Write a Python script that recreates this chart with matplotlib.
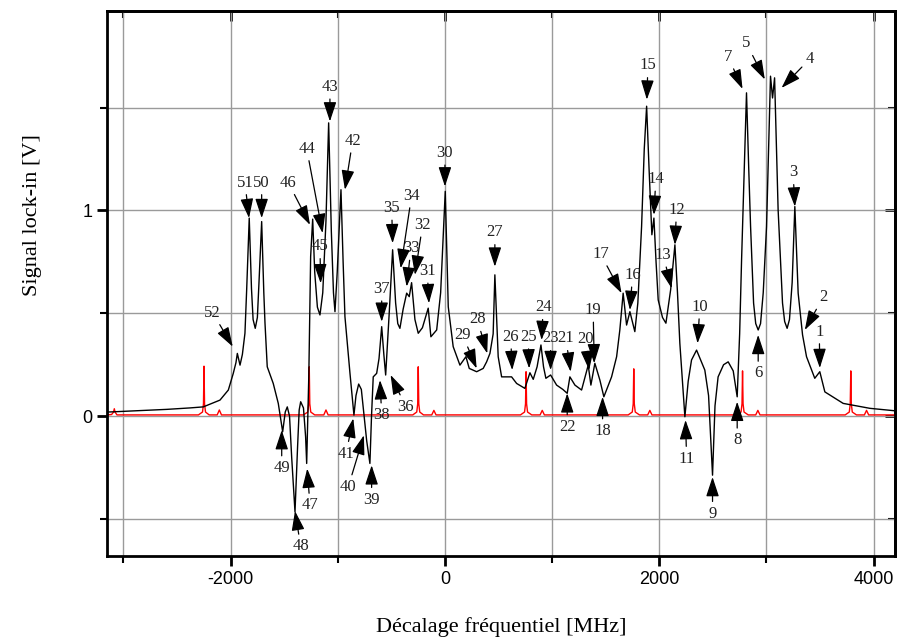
import matplotlib
matplotlib.use('Agg')
from matplotlib import pyplot as plt
from matplotlib.ticker import MultipleLocator

plt.rcParams['axes.unicode_minus'] = False

# black spectrum (lock-in signal), MHz / V
bx = [-3150, -3097, -2800, -2593, -2379, -2255, -2099, -2021, -1975, -1950, -1937,
      -1912, -1890, -1866, -1850, -1826, -1805, -1790, -1770, -1750, -1735, -1710,
      -1690, -1679, -1658, -1602, -1555, -1514, -1490, -1471, -1450, -1430, -1399,
      -1375, -1360, -1346, -1320, -1300, -1290, -1270, -1253, -1234, -1215, -1190,
      -1166, -1140, -1110, -1085, -1060, -1040, -1026, -1005, -970, -950, -933,
      -886, -849, -830, -805, -780, -760, -730, -700, -685, -669, -637, -615, -590,
      -570, -553, -520, -488, -460, -440, -420, -390, -357, -333, -311, -280, -249,
      -210, -156, -131, -77, -40, 3, 31, 77, 140, 196, 227, 296, 357, 389, 420, 450,
      466, 497, 529, 622, 669, 746, 793, 824, 860, 896, 920, 942, 986, 1042, 1100,
      1141, 1166, 1213, 1275, 1337, 1362, 1399, 1446, 1483, 1555, 1602, 1632, 1663,
      1695, 1726, 1772, 1800, 1835, 1860, 1882, 1905, 1931, 1950, 1970, 1990, 2030,
      2062, 2106, 2146, 2170, 2192, 2239, 2270, 2301, 2348, 2425, 2460, 2497, 2520,
      2549, 2600, 2643, 2690, 2727, 2750, 2768, 2814, 2835, 2852, 2880, 2900, 2923,
      2945, 2970, 3001, 3038, 3057, 3076, 3109, 3150, 3170, 3193, 3215, 3240, 3265,
      3296, 3337, 3374, 3451, 3498, 3545, 3716, 3965, 4200]
by = [0.020, 0.021, 0.028, 0.033, 0.040, 0.045, 0.078, 0.127, 0.208, 0.260, 0.305,
      0.248, 0.300, 0.403, 0.614, 0.963, 0.620, 0.470, 0.427, 0.480, 0.650, 0.946,
      0.600, 0.453, 0.240, 0.159, 0.062, -0.076, 0.020, 0.045, 0.000, -0.200, -0.466,
      -0.150, 0.030, 0.070, 0.040, -0.100, -0.230, 0.200, 0.776, 0.958, 0.700, 0.530,
      0.492, 0.600, 0.950, 1.426, 0.900, 0.600, 0.508, 0.700, 1.101, 0.750, 0.484,
      0.208, 0.005, 0.100, 0.156, 0.130, 0.030, -0.120, -0.230, 0.000, 0.191, 0.208, 0.280, 0.435,
      0.300, 0.200, 0.500, 0.809, 0.550, 0.450, 0.427, 0.520, 0.598, 0.581, 0.649, 0.470, 0.403,
      0.430, 0.525, 0.386, 0.419, 0.600, 1.093, 0.532, 0.338, 0.248, 0.289, 0.232, 0.216, 0.232, 0.264, 0.305, 0.400,
      0.687, 0.289, 0.191, 0.191, 0.159, 0.135, 0.211, 0.179, 0.240, 0.346, 0.240, 0.184, 0.200, 0.151, 0.130,
      0.111, 0.191, 0.151, 0.127, 0.248, 0.151, 0.257, 0.175, 0.094, 0.191, 0.289, 0.419, 0.598,
      0.443, 0.508, 0.411, 0.550, 0.922, 1.300, 1.507, 1.200, 0.882, 0.963, 0.750, 0.565, 0.480,
      0.452, 0.614, 0.833, 0.600, 0.354, -0.003, 0.170, 0.273, 0.321, 0.224, 0.100, -0.287, 0.050,
      0.191, 0.250, 0.264, 0.220, 0.094, 0.400, 0.760, 1.572, 1.200, 0.922, 0.550, 0.450, 0.419,
      0.450, 0.600, 0.922, 1.653, 1.547, 1.645, 1.003, 0.550, 0.460, 0.427, 0.470, 0.650, 1.019,
      0.598, 0.395, 0.289, 0.184, 0.216, 0.118, 0.062, 0.038, 0.026]

# red trace (Fabry-Perot reference)
rx = [-3150, -3110, -3092, -3085, -3078, -3060,
      -2300, -2262, -2253, -2248, -2243, -2234, -2200,
      -2125, -2105, -2085,
      -1320, -1280, -1271, -1266, -1261, -1252, -1215,
      -1130, -1110, -1090,
      -300, -263, -254, -249, -244, -235, -200,
      -123, -103, -83,
      705, 743, 752, 757, 762, 771, 810,
      888, 908, 928,
      1710, 1748, 1757, 1762, 1767, 1776, 1815,
      1892, 1912, 1932,
      2725, 2763, 2772, 2777, 2782, 2791, 2830,
      2900, 2920, 2940,
      3735, 3773, 3782, 3787, 3792, 3801, 3840,
      3914, 3934, 3954, 4200]
ry = [0.006, 0.008, 0.020, 0.036, 0.020, 0.006,
      0.006, 0.020, 0.060, 0.243, 0.060, 0.020, 0.006,
      0.006, 0.030, 0.006,
      0.006, 0.020, 0.060, 0.240, 0.060, 0.020, 0.006,
      0.006, 0.030, 0.006,
      0.006, 0.020, 0.060, 0.240, 0.060, 0.020, 0.006,
      0.006, 0.028, 0.006,
      0.006, 0.020, 0.060, 0.216, 0.060, 0.020, 0.006,
      0.006, 0.028, 0.006,
      0.006, 0.020, 0.060, 0.230, 0.060, 0.020, 0.006,
      0.006, 0.028, 0.006,
      0.006, 0.020, 0.060, 0.220, 0.060, 0.020, 0.006,
      0.006, 0.028, 0.006,
      0.006, 0.020, 0.060, 0.220, 0.060, 0.020, 0.006,
      0.006, 0.028, 0.006, 0.006]

# numbered arrows: label, arrow tip (x, y), text centre (x, y)
labels = [str(i) for i in range(1, 53)]
tip_x = [3498, 3358, 3265, 3141, 2985, 2923, 2777, 2727, 2497, 2357,
         2245, 2146, 2115, 1950, 1884, 1726, 1648, 1471, 1393, 1346,
         1173, 1141, 986, 902, 786, 628, 466, 395, 296, 0,
         -149, -280, -357, -413, -488, -507, -590, -606, -684, -756,
         -855, -933, -1073, -1141, -1160, -1259, -1285, -1399, -1523, -1710,
         -1828, -1980]
tip_y = [0.234, 0.419, 1.019, 1.596, 1.637, 0.395, 1.591, 0.070, -0.296, 0.354,
         -0.019, 0.833, 0.622, 0.979, 1.539, 0.516, 0.598, 0.094, 0.257, 0.224,
         0.216, 0.111, 0.224, 0.370, 0.232, 0.224, 0.727, 0.305, 0.232, 1.117,
         0.549, 0.687, 0.630, 0.719, 0.841, 0.200, 0.459, 0.175, -0.239, -0.093,
         -0.011, 1.101, 1.433, 0.890, 0.646, 0.930, -0.255, -0.461, -0.068, 0.963,
         0.963, 0.338]
txt_x = [3493, 3529, 3249, 3405, 2814, 2923, 2643, 2727, 2497, 2379,
         2255, 2161, 2036, 1968, 1894, 1751, 1452, 1471, 1383, 1315,
         1129, 1141, 986, 917, 777, 613, 466, 301, 165, 0,
         -165, -208, -317, -311, -497, -364, -590, -590, -684, -902,
         -923, -861, -1073, -1290, -1166, -1462, -1259, -1346, -1523, -1710,
         -1866, -2167]
txt_y = [0.411, 0.578, 1.185, 1.737, 1.812, 0.208, 1.747, -0.117, -0.474, 0.532,
         -0.206, 1.003, 0.784, 1.153, 1.705, 0.687, 0.789, -0.072, 0.516, 0.374,
         0.378, -0.052, 0.378, 0.529, 0.386, 0.386, 0.893, 0.471, 0.395, 1.280,
         0.706, 0.930, 0.817, 1.072, 1.012, 0.045, 0.619, 0.005, -0.406, -0.344,
         -0.182, 1.339, 1.601, 1.301, 0.825, 1.136, -0.434, -0.633, -0.252, 1.136,
         1.136, 0.503]

fig = plt.figure(figsize=(8.99, 6.39), dpi=100)
ax = fig.add_axes([0.1194, 0.1299, 0.8762, 0.8529])

ax.plot(rx, ry, color='red', lw=1.0, zorder=2)
ax.plot(bx, by, color='black', lw=1.0, zorder=3)

for lab, x0, y0, x1, y1 in zip(labels, tip_x, tip_y, txt_x, txt_y):
    ax.annotate(lab, xy=(x0, y0), xytext=(x1, y1), ha='center', va='center',
                fontsize=12, family='Liberation Serif', color='#222222', zorder=4,
                arrowprops=dict(arrowstyle='-|>,head_length=1.0,head_width=0.33',
                                fc='black', ec='black', lw=0.9,
                                shrinkA=1, shrinkB=0, mutation_scale=12))

ax.set_xlim(-3150, 4200)
ax.set_ylim(-0.68, 1.97)

ax.xaxis.set_major_locator(MultipleLocator(2000))
ax.xaxis.set_minor_locator(MultipleLocator(1000))
ax.yaxis.set_major_locator(MultipleLocator(1))
ax.yaxis.set_minor_locator(MultipleLocator(0.5))
ax.grid(True, which='both', color='#9a9a9a', lw=1.0, zorder=0)
ax.set_axisbelow(True)

ax.tick_params(axis='both', which='major', direction='out', length=7, width=2,
               labelsize=13)
ax.tick_params(axis='both', which='minor', direction='out', length=5, width=1.5)
for lab in ax.get_xticklabels() + ax.get_yticklabels():
    lab.set_family(['Liberation Sans Narrow', 'Liberation Sans'])

# inward ticks on top and right
top = ax.secondary_xaxis('top')
top.set_xticks([-2000, 0, 2000, 4000])
top.xaxis.set_minor_locator(MultipleLocator(1000))
top.tick_params(which='major', direction='in', length=7, width=2, labeltop=False)
top.tick_params(which='minor', direction='in', length=5, width=1.5)
right = ax.secondary_yaxis('right')
right.set_yticks([0, 1])
right.yaxis.set_minor_locator(MultipleLocator(0.5))
right.tick_params(which='major', direction='in', length=7, width=2, labelright=False)
right.tick_params(which='minor', direction='in', length=5, width=1.5)
for s in ax.spines.values():
    s.set_linewidth(2)
top.spines['top'].set_linewidth(2)
right.spines['right'].set_linewidth(2)

ax.set_xlabel('Décalage fréquentiel [MHz]', fontsize=16, family='Liberation Serif')
ax.set_ylabel('Signal lock-in [V]', fontsize=16, family='Liberation Serif')
ax.xaxis.set_label_coords(0.5, -0.113)
ax.yaxis.set_label_coords(-0.083, 0.626)

plt.savefig('out.png', dpi=100)
